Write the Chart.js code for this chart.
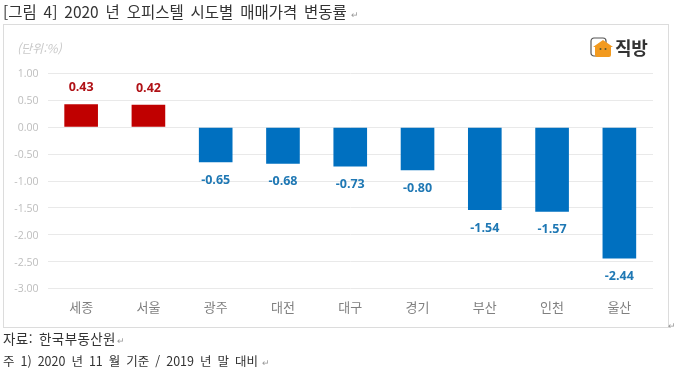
<!DOCTYPE html>
<html lang="ko">
<head>
<meta charset="utf-8">
<title>2020년 오피스텔 시도별 매매가격 변동률</title>
<script src="https://cdn.jsdelivr.net/npm/chart.js@4"></script>
<style>
  html, body { margin: 0; padding: 0; background: #fff; }
  body { position: relative; width: 680px; height: 376px; overflow: hidden; font-family: "Noto Sans CJK KR", "Noto Sans", sans-serif; }
  .frame { position: absolute; left: 3px; top: 24px; width: 664px; height: 302px; border: 1px solid #dcdcdc; box-sizing: content-box; }
  canvas { position: absolute; left: 0; top: 0; }
  .txt { position: absolute; white-space: nowrap; color: #333; font-size: 13.5px; line-height: 16px; }
  .mark { color: #999; font-size: 9px; margin-left: 4px; }
  .unit { left: 17px; top: 40px; color: #c9c9c9; font-size: 12px; font-style: italic; }
  .brand { left: 615px; top: 35px; color: #333; font-size: 18px; font-weight: 700; line-height: 24px; letter-spacing: -0.3px; }
  svg { position: absolute; left: 590px; top: 37px; }
</style>
</head>
<body>
<div class="frame"></div>
<canvas id="chart" width="680" height="376"></canvas>
<div class="txt" style="left:3px;top:3px;font-size:15.5px;word-spacing:2.5px">[그림 4] 2020 년 오피스텔 시도별 매매가격 변동률<span class="mark">↵</span></div>
<div class="txt unit">(단위:%)</div>
<svg width="24" height="21" viewBox="0 0 24 21">
  <rect x="1" y="1" width="15" height="18" rx="3" fill="#fff" stroke="#555" stroke-width="1.2"/>
  <path d="M3 10 L13 3 L23 10 L21 10 L21 18 Q21 20 19 20 L7 20 Q5 20 5 18 L5 10 Z" fill="#f29a1f"/>
  <circle cx="10.5" cy="12" r="1" fill="#553"/><circle cx="15.5" cy="12" r="1" fill="#553"/>
</svg>
<div class="txt brand">직방</div>
<div class="txt" style="left:3px;top:330px;word-spacing:2px;letter-spacing:0.4px">자료: 한국부동산원<span class="mark" style="margin-left:1px">↵</span></div>
<div class="txt" style="left:3px;top:353px;font-size:12.5px;word-spacing:2.5px">주 1) 2020 년 11 월 기준 / 2019 년 말 대비<span class="mark">↵</span></div>
<div class="txt mark" style="left:668px;top:318px;margin:0">↵</div>
<script>
const categories = ["세종", "서울", "광주", "대전", "대구", "경기", "부산", "인천", "울산"];
const values = [0.43, 0.42, -0.65, -0.68, -0.73, -0.80, -1.54, -1.57, -2.44];
const yMin = -3;
const yMax = 1;
const yStep = 0.5;

const upColor = "#c00000";
const downColor = "#0070c0";
const upLabel = "#b01116";
const downLabel = "#1f78b4";

// value labels sit above the red bars and below the blue ones
const barLabels = {
  id: "barLabels",
  afterDatasetsDraw(chart) {
    const { ctx } = chart;
    const bars = chart.getDatasetMeta(0).data;
    ctx.save();
    ctx.font = "bold 12.5px 'Open Sans', 'Noto Sans', sans-serif";
    ctx.textAlign = "center";
    ctx.textBaseline = "middle";
    bars.forEach((bar, i) => {
      const v = values[i];
      ctx.fillStyle = v >= 0 ? upLabel : downLabel;
      ctx.fillText(v.toFixed(2), bar.x, bar.y + (v >= 0 ? -16.5 : 18));
    });
    ctx.restore();
  },
};

new Chart(document.getElementById("chart"), {
  type: "bar",
  data: {
    labels: categories,
    datasets: [
      {
        data: values,
        backgroundColor: values.map((v) => (v >= 0 ? upColor : downColor)),
        barPercentage: 0.5,
        categoryPercentage: 1,
      },
    ],
  },
  options: {
    responsive: false,
    animation: false,
    layout: { padding: { top: 73.5, right: 27, left: 0, bottom: 0 } },
    plugins: { legend: { display: false }, tooltip: { enabled: false } },
    scales: {
      x: {
        afterFit: (s) => { s.height = 87.5; },
        grid: { display: false },
        border: { display: false },
        ticks: {
          color: "#808080",
          padding: 3,
          maxRotation: 0,
          font: { size: 13, family: "'Noto Sans CJK KR', sans-serif" },
        },
      },
      y: {
        min: yMin,
        max: yMax,
        afterFit: (s) => { s.width = 47.5; },
        grid: { color: "#e9e9e9", lineWidth: 1, drawTicks: false },
        border: { display: false },
        ticks: {
          stepSize: yStep,
          color: "#bdbdbd",
          padding: 9,
          labelOffset: 1,
          font: { size: 10.5, family: "'Open Sans', sans-serif" },
          callback: (v) => v.toFixed(2),
        },
      },
    },
  },
  plugins: [barLabels],
});
</script>
</body>
</html>
